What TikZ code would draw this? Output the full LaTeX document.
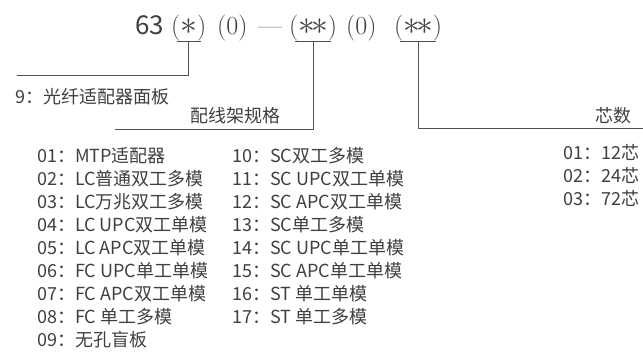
\documentclass[tikz,border=0pt]{standalone}
\usepackage{fontspec}
\usepackage{tikz}
\usetikzlibrary{positioning,calc}
\newfontfamily\cjk{Noto Sans CJK SC}
\newcommand{\bigast}{\scalebox{1.35}{$\ast$}}
\definecolor{txtGray}{HTML}{3F3F3F}
\definecolor{lineGray}{HTML}{505050}
\tikzset{
    codePart/.style={
    ,   anchor=base west
    ,   inner sep=0pt
    ,   text=txtGray
    ,   font=\fontsize{26}{30}\selectfont
    },
    itemText/.style={
    ,   anchor=west
    ,   inner sep=0pt
    ,   text=txtGray
    ,   font=\cjk\fontsize{18}{22}\selectfont
    },
    leader/.style={
    ,   draw=lineGray
    ,   line width=0.9pt
    }
}

\begin{document}
\begin{tikzpicture}[x=1pt,y=-1pt]
    \useasboundingbox (0,0) rectangle (643,352);

    % order code
    \node[codePart,font=\cjk\fontsize{26}{30}\selectfont] (num) at (135,35) {63};
    \node[codePart] (panel) at (171,35) {(\bigast)};
    \node[codePart] (zeroA) at (217,35) {(0)};
    \node[codePart] (dash) at (258,35) {---};
    \node[codePart] (spec) at (289,35) {(\bigast\kern-4pt\bigast)};
    \node[codePart] (zeroB) at (346,35) {(0)};
    \node[codePart] (cores) at (394,35) {(\bigast\kern-4pt\bigast)};

    \coordinate (panelEnd) at (17,75);
    \coordinate (specEnd) at (115,129);
    \coordinate (coreEnd) at (643,128);

    \foreach \a in {panel,spec,cores}{
        \draw[leader] ([xshift=6pt]\a.south west) -- ([xshift=-6pt]\a.south east);
    }
    \draw[leader] (panel.south) |- (panelEnd);
    \draw[leader] (spec.south) |- (specEnd);
    \draw[leader] (cores.south) |- (coreEnd);

    \node[itemText] (panelLbl) at (15,97) {9：光纤适配器面板};
    \node[itemText] (specLbl) at (190,116) {配线架规格};
    \node[itemText] (coreLbl) at (595,116) {芯数};

    % spec list
    \foreach \n/\t [count=\i from 0] in {01/MTP适配器,02/LC普通双工多模,03/LC万兆双工多模,
        04/LC UPC双工单模,05/LC APC双工单模,06/FC UPC单工单模,07/FC APC双工单模,
        08/FC 单工多模,09/无孔盲板}{
        \node[itemText] (spec\n) at (37,156+22.9*\i) {\n：\t};
    }
    \foreach \n/\t [count=\i from 0] in {10/SC双工多模,11/SC UPC双工单模,12/SC APC双工单模,
        13/SC单工多模,14/SC UPC单工单模,15/SC APC单工单模,16/ST 单工单模,17/ST 单工多模}{
        \node[itemText] (spec\n) at (232,156+22.9*\i) {\n：\t};
    }

    % core count
    \foreach \n/\t [count=\i from 0] in {01/12芯,02/24芯,03/72芯}{
        \node[itemText] (core\n) at (563,152+23*\i) {\n：\t};
    }
\end{tikzpicture}
\end{document}
